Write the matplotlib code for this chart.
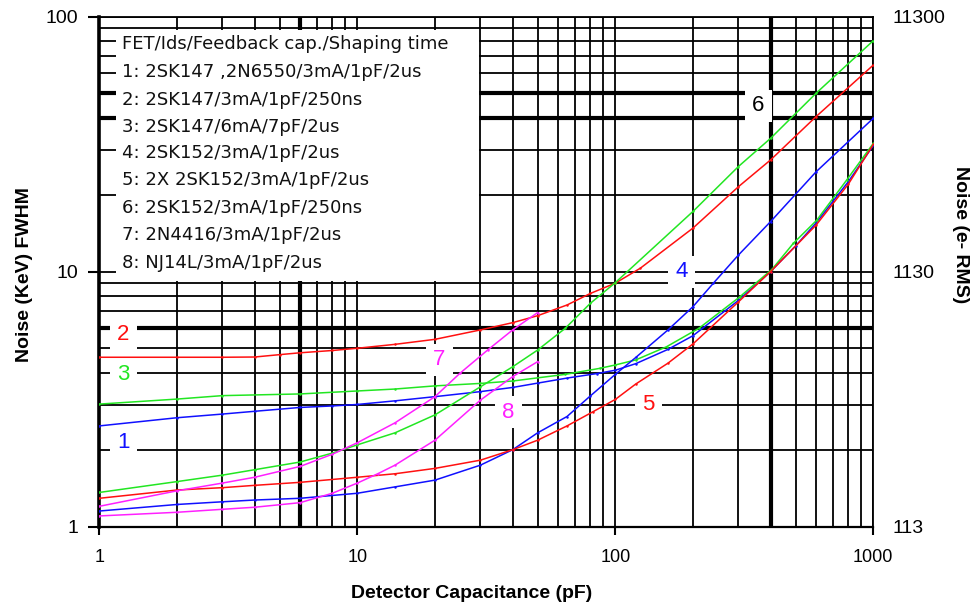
import numpy as np
import matplotlib
matplotlib.use("Agg")
import matplotlib.pyplot as plt
from matplotlib.ticker import LogLocator, NullFormatter, FixedLocator, FixedFormatter
from matplotlib.patches import Rectangle
from matplotlib.transforms import ScaledTranslation

# ---------------- data ----------------
c1 = [1, 2, 3, 4, 6, 8, 10, 14, 20, 30, 40, 50, 65, 85, 100, 120, 160, 200, 300, 400, 500, 600, 800, 1000]
n1 = [2.48, 2.67, 2.76, 2.83, 2.93, 2.97, 3.01, 3.11, 3.23, 3.38, 3.51, 3.65, 3.82, 3.98, 4.1, 4.35, 4.95, 5.6, 7.7, 10.0, 12.6, 15.5, 22.5, 31.2]

c2 = [1, 2, 3, 4, 5, 6, 8, 10, 14, 20, 30, 40, 50, 65, 80, 100, 125, 200, 300, 400, 600, 1000]
n2 = [4.61, 4.61, 4.61, 4.62, 4.72, 4.8, 4.9, 5.0, 5.18, 5.42, 5.9, 6.3, 6.71, 7.39, 8.2, 9.0, 10.3, 14.8, 21.5, 27.4, 40.5, 64.5]

c3 = [1, 2, 3, 6, 10, 14, 20, 30, 40, 64, 87, 100, 120, 158, 211, 304, 405, 490, 604, 790, 1000]
n3 = [3.02, 3.16, 3.26, 3.31, 3.40, 3.46, 3.56, 3.64, 3.72, 3.95, 4.17, 4.3, 4.5, 5.07, 5.99, 7.96, 10.2, 12.9, 15.9, 22.9, 31.8]

c4 = [1, 2, 3, 4, 6, 10, 14, 20, 30, 40, 50, 65, 80, 100, 120, 160, 200, 240, 300, 400, 600, 1000]
n4 = [1.15, 1.22, 1.25, 1.27, 1.29, 1.35, 1.43, 1.52, 1.74, 2.0, 2.33, 2.70, 3.25, 3.95, 4.6, 5.9, 7.28, 9.0, 11.6, 15.7, 24.6, 39.9]

c5 = [1, 2, 3, 4, 6, 10, 14, 20, 30, 40, 50, 65, 82, 100, 120, 160, 200, 300, 400, 600, 800, 1000]
n5 = [1.29, 1.39, 1.42, 1.45, 1.49, 1.56, 1.61, 1.69, 1.82, 2.0, 2.18, 2.48, 2.82, 3.15, 3.62, 4.37, 5.2, 7.6, 10.0, 15.2, 22.0, 31.5]

c6 = [1, 2, 3, 4, 6, 8, 10, 14, 20, 30, 40, 50, 64, 80, 100, 200, 300, 400, 600, 1000]
n6 = [1.36, 1.5, 1.59, 1.67, 1.79, 1.94, 2.09, 2.33, 2.74, 3.53, 4.23, 4.92, 5.99, 7.5, 9.04, 17.2, 25.8, 33.3, 50.0, 80.4]

c7 = [1, 2, 3, 4, 6, 8, 10, 14, 20, 25, 32, 40, 50]
n7 = [1.2, 1.38, 1.48, 1.56, 1.72, 1.92, 2.13, 2.55, 3.23, 3.99, 4.92, 5.9, 6.9]

c8 = [1, 2, 3, 4, 6, 8, 10, 12, 14, 20, 30, 40, 50]
n8 = [1.10, 1.137, 1.168, 1.19, 1.24, 1.35, 1.48, 1.61, 1.74, 2.18, 3.13, 3.87, 4.43]

RED, GREEN, BLUE, MAG = "#ff1010", "#22e622", "#1010ff", "#ff20ff"

curves = [
    (c1, n1, BLUE), (c2, n2, RED), (c3, n3, GREEN), (c4, n4, BLUE),
    (c5, n5, RED), (c6, n6, GREEN), (c7, n7, MAG), (c8, n8, MAG),
]

# curve number labels: text, x (pF), y (keV), colour
label_txt = ["2", "3", "1", "7", "8", "4", "5", "6"]
label_x = [1.24, 1.24, 1.24, 20.8, 38.6, 180.6, 134.5, 359]
label_y = [5.64, 3.96, 2.13, 4.5, 2.81, 9.96, 3.0, 44.6]
label_col = [RED, GREEN, BLUE, MAG, MAG, BLUE, RED, "black"]

legend_lines = [
    "FET/Ids/Feedback cap./Shaping time",
    "1: 2SK147 ,2N6550/3mA/1pF/2us",
    "2: 2SK147/3mA/1pF/250ns",
    "3: 2SK147/6mA/7pF/2us",
    "4: 2SK152/3mA/1pF/2us",
    "5: 2X 2SK152/3mA/1pF/2us",
    "6: 2SK152/3mA/1pF/250ns",
    "7: 2N4416/3mA/1pF/2us",
    "8: NJ14L/3mA/1pF/2us",
]

x_ticks = [1, 10, 100, 1000]
y_ticks = [1, 10, 100]
y2_ticks = [113, 1130, 11300]

thick_x = [6, 400]
thick_y = [6, 40, 50]

# ---------------- figure ----------------
W, H = 977, 610
fig = plt.figure(figsize=(W / 100, H / 100), dpi=100)
L, R, T, B = 99.3, 873.3, 16.5, 526.5
ax = fig.add_axes([L / W, 1 - B / H, (R - L) / W, (B - T) / H])
ax.set_xscale("log")
ax.set_yscale("log")
ax.set_xlim(1, 1000)
ax.set_ylim(1, 100)

ax.xaxis.set_minor_locator(LogLocator(base=10, subs=np.arange(2, 10)))
ax.yaxis.set_minor_locator(LogLocator(base=10, subs=np.arange(2, 10)))
ax.xaxis.set_minor_formatter(NullFormatter())
ax.yaxis.set_minor_formatter(NullFormatter())
ax.xaxis.set_major_locator(FixedLocator(x_ticks))
ax.xaxis.set_major_formatter(FixedFormatter([str(v) for v in x_ticks]))
ax.yaxis.set_major_locator(FixedLocator(y_ticks))
ax.yaxis.set_major_formatter(FixedFormatter([str(v) for v in y_ticks]))

ax.set_axisbelow(True)
ax.grid(True, which="both", color="black", lw=1.3)
for v in thick_x:
    ax.axvline(v, color="black", lw=3.0, zorder=0.6)
for v in thick_y:
    ax.axhline(v, color="black", lw=3.0, zorder=0.6)

ax.tick_params(which="minor", length=0)
ax.tick_params(axis="x", which="major", direction="out", length=6, width=1.5,
               pad=10, labelsize=13)
ax.tick_params(axis="y", which="major", direction="out", length=8, width=1.5,
               pad=7, labelsize=14)
for lab in ax.get_xticklabels() + ax.get_yticklabels():
    lab.set_family(["Liberation Sans", "DejaVu Sans"])

for s in ["top", "right"]:
    ax.spines[s].set_linewidth(1.3)
ax.spines["left"].set_linewidth(2.6)
ax.spines["bottom"].set_linewidth(1.6)

# white legend panel covering the grid
ax.add_patch(Rectangle((1.16, 9.2), 29.6 - 1.16, 88.5 - 9.2, facecolor="white",
                       edgecolor="none", zorder=1))

# white boxes behind curve labels
bw, bh = 0.27, 0.32
for t, x, y, col in zip(label_txt, label_x, label_y, label_col):
    tr = fig.dpi_scale_trans + ScaledTranslation(x, y, ax.transData)
    ax.add_patch(Rectangle((-bw / 2, -bh / 2), bw, bh, transform=tr,
                           facecolor="white", edgecolor="none", zorder=1.5,
                           clip_on=False))
    ax.text(x, y, t, color=col, fontsize=16, ha="center", va="center",
            family=["Liberation Sans", "DejaVu Sans"], zorder=2)

# curves
for c, n, col in curves:
    ax.plot(c, n, color=col, lw=1.1, zorder=3, marker="o", ms=1.8,
            markeredgewidth=0)

# legend text
leg_y = [44, 72, 100, 127, 153, 180, 208, 235, 263]
for txt, py in zip(legend_lines, leg_y):
    fig.text(122 / W, 1 - py / H, txt, fontsize=13, va="center", ha="left",
             family=["DejaVu Sans"], color="#111111")

# right axis
ax2 = ax.twinx()
ax2.set_yscale("log")
ax2.set_ylim(113, 11300)
ax2.yaxis.set_major_locator(FixedLocator(y2_ticks))
ax2.yaxis.set_major_formatter(FixedFormatter([str(v) for v in y2_ticks]))
ax2.yaxis.set_minor_locator(FixedLocator([]))
ax2.tick_params(axis="y", length=0, pad=14, labelsize=14)
for lab in ax2.get_yticklabels():
    lab.set_family(["Liberation Sans", "DejaVu Sans"])
for s in ax2.spines.values():
    s.set_visible(False)

# axis titles
tfam = ["Liberation Sans", "DejaVu Sans"]
fig.text(472 / W, 1 - 594 / H, "Detector Capacitance (pF)", fontsize=14,
         fontweight="bold", ha="center", va="center", family=tfam)
fig.text(25 / W, 1 - 275 / H, "Noise (KeV) FWHM", fontsize=14,
         fontweight="bold", ha="center", va="center", rotation=90, family=tfam)
fig.text(961 / W, 1 - 235 / H, "Noise (e- RMS)", fontsize=14,
         fontweight="bold", ha="center", va="center", rotation=270, family=tfam)

fig.savefig("out.png", dpi=100, facecolor="white")
